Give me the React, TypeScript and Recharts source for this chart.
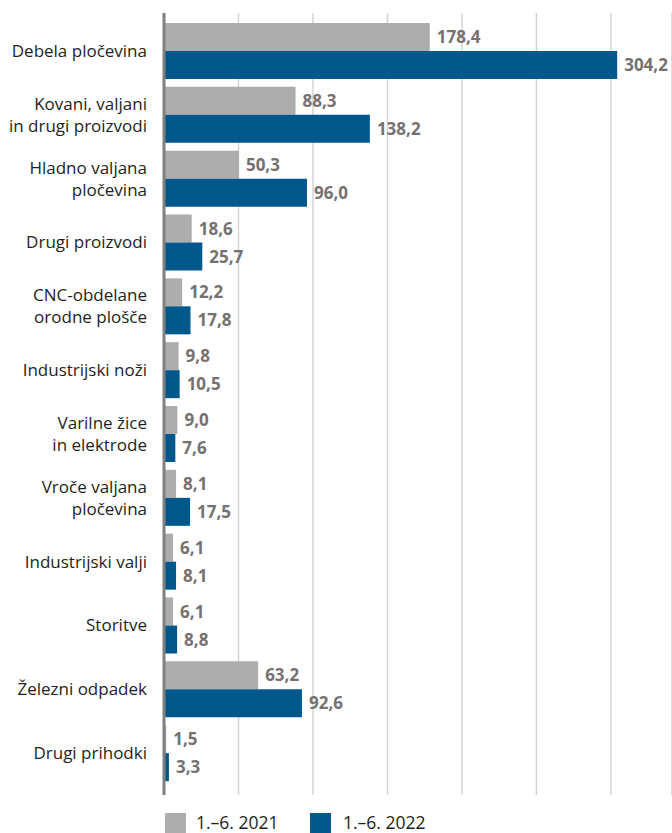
import React from "react";
import { BarChart, Bar, XAxis, YAxis, CartesianGrid, LabelList } from "recharts";

const categories = [
  "Debela pločevina",
  "Kovani, valjani\nin drugi proizvodi",
  "Hladno valjana\npločevina",
  "Drugi proizvodi",
  "CNC-obdelane\norodne plošče",
  "Industrijski noži",
  "Varilne žice\nin elektrode",
  "Vroče valjana\npločevina",
  "Industrijski valji",
  "Storitve",
  "Železni odpadek",
  "Drugi prihodki",
];
const values2021 = [178.4, 88.3, 50.3, 18.6, 12.2, 9.8, 9.0, 8.1, 6.1, 6.1, 63.2, 1.5];
const values2022 = [304.2, 138.2, 96.0, 25.7, 17.8, 10.5, 7.6, 17.5, 8.1, 8.8, 92.6, 3.3];
const xTicks = [0, 50, 100, 150, 200, 250, 300];

const GREY = "#adadad";
const BLUE = "#02588b";
const LABEL = "#767171";
const TEXT = "#231f20";
const FONT = "'Open Sans', sans-serif";

const data = categories.map((name, i) => ({
  name,
  y2021: values2021[i],
  y2022: values2022[i],
}));

const fmt = (v: unknown) => Number(v).toFixed(1).replace(".", ",");

function CategoryTick(props: any) {
  const { x, y, payload } = props;
  const lines = String(payload.value).split("\n");
  const lh = 22;
  const start = -((lines.length - 1) * lh) / 2;
  return (
    <text x={x - 9} y={y} textAnchor="end" fill={TEXT} fontSize={17} fontFamily={FONT}>
      {lines.map((l, i) => (
        <tspan key={i} x={x - 9} dy={i === 0 ? start + 6 : lh}>
          {l}
        </tspan>
      ))}
    </text>
  );
}

export default function App() {
  return (
    <div style={{ position: "absolute", left: 0, top: 0, width: 672, height: 833, background: "#fff", overflow: "hidden" }}>
      <BarChart
        width={672}
        height={833}
        data={data}
        layout="vertical"
        margin={{ top: 13, right: 0, bottom: 38, left: 0 }}
        barGap={0}
      >
        <CartesianGrid horizontal={false} stroke="#d4d4d4" strokeWidth={1.5} />
        <XAxis type="number" domain={[0, 341]} ticks={xTicks} hide allowDataOverflow />
        <YAxis
          type="category"
          dataKey="name"
          width={164}
          tick={<CategoryTick />}
          tickLine={false}
          axisLine={{ stroke: "#808080", strokeWidth: 3 }}
          padding={{ top: 6, bottom: 10 }}
          interval={0}
        />
        <Bar dataKey="y2021" fill={GREY} barSize={28} isAnimationActive={false}>
          <LabelList
            dataKey="y2021"
            position="right"
            offset={7}
            formatter={fmt}
            fill={LABEL}
            fontSize={17}
            fontWeight="bold"
            fontFamily={FONT}
          />
        </Bar>
        <Bar dataKey="y2022" fill={BLUE} barSize={28} isAnimationActive={false}>
          <LabelList
            dataKey="y2022"
            position="right"
            offset={7}
            formatter={fmt}
            fill={LABEL}
            fontSize={17}
            fontWeight="bold"
            fontFamily={FONT}
          />
        </Bar>
      </BarChart>
      <div
        style={{
          position: "absolute",
          top: 813,
          left: 165,
          display: "flex",
          alignItems: "flex-start",
          fontFamily: FONT,
          fontSize: 17.5,
          color: TEXT,
          lineHeight: "16px",
        }}
      >
        <span style={{ width: 21, height: 20, background: GREY, display: "inline-block" }} />
        <span style={{ marginLeft: 10, width: 114, marginTop: 1 }}>1.–6. 2021</span>
        <span style={{ width: 21, height: 20, background: BLUE, display: "inline-block" }} />
        <span style={{ marginLeft: 12, marginTop: 1 }}>1.–6. 2022</span>
      </div>
    </div>
  );
}
